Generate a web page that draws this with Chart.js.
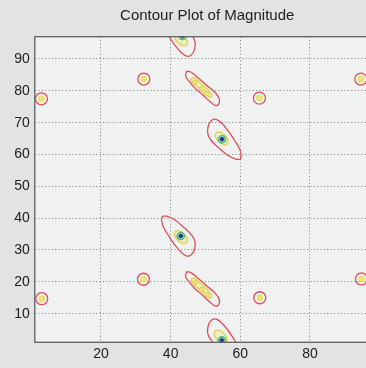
<!DOCTYPE html>
<html>
<head>
<meta charset="utf-8">
<title>Contour Plot of Magnitude</title>
<script src="https://cdn.jsdelivr.net/npm/chart.js@4.4.1/dist/chart.umd.min.js"></script>
<style>
  html, body { margin: 0; padding: 0; background: #e3e3e3; overflow: hidden; }
  canvas { display: block; }
</style>
</head>
<body>
<canvas id="contourChart" width="400" height="368"></canvas>
<script>
// axis limits and ticks
const xLimits = [1, 100];
const yLimits = [1, 97];
const xTickValues = [20, 40, 60, 80];
const yTickValues = [10, 20, 30, 40, 50, 60, 70, 80, 90];

// small isolated peaks (one ring + bright centre each)
const minorPeaks = [
  [2.9, 77.5], [32.3, 83.7], [65.5, 77.7], [94.6, 83.7],
  [3.0, 14.7], [32.2, 20.8], [65.6, 15.0], [94.8, 20.9]
];

// centres of the four strong peaks
const majorPeaks = [[43.4, 97.2], [42.9, 34.4], [54.75, 64.8], [54.7, 1.6]];

// bright spots along the two diagonal ridges
const ridgeSpots = [
  [46.96, 82.75], [48.87, 80.65], [50.3, 79.1],
  [47.0, 19.75], [48.9, 17.65], [50.3, 16.1]
];

// outer contour level (red)
const bandUpperOuter = [
  [44.6, 86.2], [45.8, 85.9], [48.05, 83.95], [50.5, 81.6], [52.9, 79.3], [54.0, 77.3],
  [53.8, 75.8], [53.0, 75.35], [51.65, 76.3], [49.25, 78.7], [46.85, 81.0], [45.1, 83.3],
  [44.3, 84.6], [44.6, 86.2]
];
const bandLowerOuter = [
  [44.6, 23.2], [45.8, 22.9], [48.05, 20.95], [50.5, 18.6], [52.9, 16.3], [54.0, 14.3],
  [53.8, 12.8], [53.0, 12.35], [51.65, 13.3], [49.25, 15.7], [46.85, 18.0], [45.1, 20.3],
  [44.3, 21.6], [44.6, 23.2]
];
const dropTopOuter = [
  [37.6, 103.4], [38.9, 103.4], [41.25, 102.2], [44.1, 99.6], [46.05, 97.5], [47.0, 95.4],
  [46.8, 92.8], [45.85, 91.2], [44.6, 90.9], [43.2, 91.9], [41.25, 94.3], [39.3, 97.5],
  [37.9, 100.1], [37.4, 102.2], [37.6, 103.4]
];
const dropLeftOuter = [
  [37.6, 40.6], [38.9, 40.6], [41.25, 39.4], [44.1, 36.8], [46.05, 34.7], [47.0, 32.6],
  [46.8, 30.0], [45.85, 28.4], [44.6, 28.1], [43.2, 29.1], [41.25, 31.5], [39.3, 34.7],
  [37.9, 37.3], [37.4, 39.4], [37.6, 40.6]
];
const dropRightOuter = [
  [60.05, 58.53], [58.78, 58.53], [56.4, 59.76], [53.53, 62.37], [51.6, 64.47], [50.65, 66.57],
  [50.86, 69.17], [51.8, 70.74], [53.04, 71.06], [54.47, 70.02], [56.4, 67.6], [58.32, 64.47],
  [59.76, 61.86], [60.22, 59.76], [60.05, 58.53]
];
const dropBottomOuter = [
  [60.05, -4.21], [58.78, -4.21], [56.4, -2.98], [53.53, -0.37], [51.6, 1.73], [50.65, 3.83],
  [50.86, 6.43], [51.8, 8.0], [53.04, 8.32], [54.47, 7.28], [56.4, 4.86], [58.32, 1.73],
  [59.76, -0.88], [60.22, -2.98], [60.05, -4.21]
];

// inner contour level (yellow)
const bandUpperInner = [
  [46.2, 84.1], [47.0, 84.0], [49.4, 81.7], [51.5, 79.3], [51.8, 78.3], [51.1, 78.05],
  [48.9, 80.15], [46.5, 82.4], [45.85, 83.3], [46.2, 84.1]
];
const bandLowerInner = [
  [46.2, 21.1], [47.0, 21.0], [49.4, 18.7], [51.5, 16.3], [51.8, 15.3], [51.1, 15.05],
  [48.9, 17.15], [46.5, 19.4], [45.85, 20.3], [46.2, 21.1]
];
const dropTopInner = [
  [44.61, 94.35], [44.77, 95.59], [43.89, 97.14], [42.47, 98.1], [41.34, 97.92],
  [41.18, 96.68], [42.06, 95.13], [43.48, 94.17], [44.61, 94.35]
];
const dropLeftInner = [
  [44.61, 32.25], [44.77, 33.49], [43.89, 35.04], [42.47, 36.0], [41.34, 35.82],
  [41.18, 34.58], [42.06, 33.03], [43.48, 32.07], [44.61, 32.25]
];
const dropRightInner = [
  [53.04, 66.88], [52.88, 65.64], [53.76, 64.09], [55.18, 63.13], [56.31, 63.31],
  [56.47, 64.55], [55.59, 66.1], [54.17, 67.06], [53.04, 66.88]
];
const dropBottomInner = [
  [52.7, 4.6], [52.5, 3.4], [53.4, 1.8], [54.8, 0.9], [55.9, 1.1],
  [56.1, 2.3], [55.2, 3.8], [53.8, 4.8], [52.7, 4.6]
];

const outerLevel = [bandUpperOuter, bandLowerOuter, dropTopOuter, dropLeftOuter, dropRightOuter, dropBottomOuter];
const innerLevel = [bandUpperInner, bandLowerInner, dropTopInner, dropLeftInner, dropRightInner, dropBottomInner];

const FIGURE_BG = '#e3e3e3';
const AXES_BG = '#f0f1f1';
const RED = '#de4f5a';
const YELLOW = '#e0d048';
const YELLOW_FILL = 'rgba(238, 228, 110, 0.35)';
const GREEN = '#3dbb82';
const BLUE = '#2b2f95';
const FONT = "'Liberation Sans', Arial, Helvetica, sans-serif";

const toPoints = (pairs) => pairs.map(([x, y]) => ({ x, y }));

function contourDataset(pairs, color, order, fillColor) {
  return {
    data: toPoints(pairs),
    showLine: true,
    borderColor: color,
    borderWidth: 1.3,
    backgroundColor: fillColor || 'transparent',
    fill: fillColor ? 'shape' : false,
    tension: 0.4,
    pointRadius: 0,
    order: order
  };
}

function markerDataset(pairs, radius, border, background, width, order) {
  return {
    data: toPoints(pairs),
    showLine: false,
    pointRadius: radius,
    pointBorderColor: border,
    pointBackgroundColor: background,
    pointBorderWidth: width,
    order: order
  };
}

const datasets = [
  ...outerLevel.map(c => contourDataset(c, RED, 5)),
  ...innerLevel.map(c => contourDataset(c, YELLOW, 4, YELLOW_FILL)),
  markerDataset(minorPeaks, 6, RED, 'transparent', 1.3, 5),
  markerDataset(minorPeaks, 2.8, '#e6da55', '#efe66e', 1, 3),
  markerDataset(ridgeSpots, 2.2, '#e2d24c', '#efe472', 1, 3),
  markerDataset(majorPeaks, 3.6, GREEN, 'rgba(140, 215, 160, 0.6)', 1.4, 2),
  markerDataset(majorPeaks, 1.8, BLUE, BLUE, 1, 1)
];

// figure and axes backgrounds plus the box around the axes
const axesFrame = {
  id: 'axesFrame',
  beforeDraw(chart) {
    const { ctx, chartArea: a } = chart;
    ctx.save();
    ctx.fillStyle = FIGURE_BG;
    ctx.fillRect(0, 0, chart.width, chart.height);
    ctx.fillStyle = AXES_BG;
    ctx.fillRect(a.left, a.top, a.right - a.left, a.bottom - a.top);
    ctx.restore();
  },
  afterDraw(chart) {
    const { ctx, chartArea: a } = chart;
    ctx.save();
    ctx.strokeStyle = '#5c6166';
    ctx.lineWidth = 1.3;
    ctx.strokeRect(a.left, a.top, a.right - a.left, a.bottom - a.top);
    ctx.restore();
  }
};

const gridStyle = { color: '#7e7e7e', lineWidth: 1, drawTicks: false };
const borderStyle = { display: false, dash: [1, 2.4] };

new Chart(document.getElementById('contourChart'), {
  type: 'scatter',
  data: { datasets },
  plugins: [axesFrame],
  options: {
    responsive: false,
    animation: false,
    events: [],
    layout: { padding: { left: 0, right: 20.4, top: 0, bottom: 0 } },
    elements: { line: { capBezierPoints: false } },
    scales: {
      x: {
        type: 'linear',
        min: xLimits[0],
        max: xLimits[1],
        afterBuildTicks: (scale) => { scale.ticks = xTickValues.map(v => ({ value: v })); },
        afterFit: (scale) => { scale.height = 25.7; },
        grid: gridStyle,
        border: borderStyle,
        ticks: { font: { family: FONT, size: 14 }, color: '#202020', padding: 3, maxRotation: 0, autoSkip: false }
      },
      y: {
        type: 'linear',
        min: yLimits[0],
        max: yLimits[1],
        afterBuildTicks: (scale) => { scale.ticks = yTickValues.map(v => ({ value: v })); },
        afterFit: (scale) => { scale.width = 34.8; },
        grid: gridStyle,
        border: borderStyle,
        ticks: { font: { family: FONT, size: 14 }, color: '#202020', padding: 5, autoSkip: false }
      }
    },
    plugins: {
      legend: { display: false },
      tooltip: { enabled: false },
      title: {
        display: true,
        text: 'Contour Plot of Magnitude',
        fullSize: false,
        color: '#202020',
        font: { family: FONT, size: 15, weight: 'normal' },
        padding: { top: 7, bottom: 11.7 }
      }
    }
  }
});
</script>
</body>
</html>
